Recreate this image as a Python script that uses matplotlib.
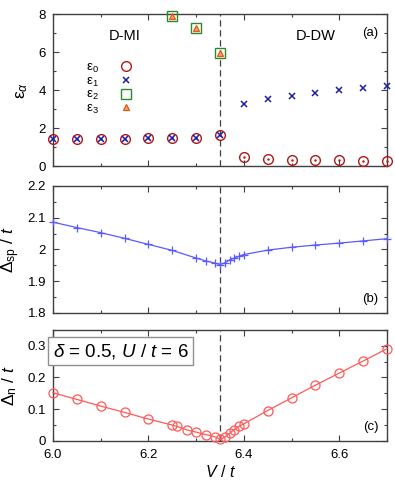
import matplotlib
matplotlib.use("Agg")
import matplotlib.pyplot as plt
from matplotlib.ticker import MultipleLocator, FixedLocator, FixedFormatter

plt.rcParams['font.family'] = ['Liberation Sans', 'DejaVu Sans']
plt.rcParams['mathtext.fontset'] = 'custom'
plt.rcParams['mathtext.rm'] = 'Liberation Sans'
plt.rcParams['mathtext.it'] = 'Liberation Sans:italic'
plt.rcParams['mathtext.sf'] = 'Liberation Sans'

# panel (a): lowest eigenvalues
V_a = [6.0, 6.05, 6.1, 6.15, 6.2, 6.25, 6.3, 6.35, 6.4, 6.45, 6.5, 6.55, 6.6, 6.65, 6.7]
eps0 = [1.45, 1.45, 1.45, 1.45, 1.46, 1.47, 1.50, 1.63, 0.47, 0.40, 0.34, 0.32, 0.30, 0.28, 0.26]
eps1 = [1.45, 1.45, 1.45, 1.45, 1.46, 1.47, 1.50, 1.63, 3.26, 3.53, 3.70, 3.84, 3.98, 4.09, 4.19]
V_hi = [6.25, 6.3, 6.35]
eps2 = [7.88, 7.28, 5.93]
eps3 = [7.88, 7.28, 5.93]

# panel (b): single particle gap
V_b = [6.0, 6.05, 6.1, 6.15, 6.2, 6.25, 6.3, 6.32, 6.34, 6.35, 6.36, 6.37, 6.38, 6.39, 6.4,
       6.45, 6.5, 6.55, 6.6, 6.65, 6.7]
gap_sp = [2.086, 2.069, 2.053, 2.035, 2.016, 1.997, 1.973, 1.964, 1.957, 1.952, 1.958, 1.967,
          1.973, 1.979, 1.984, 1.998, 2.007, 2.014, 2.020, 2.027, 2.034]

# panel (c): neutral gap
V_c = [6.0, 6.05, 6.1, 6.15, 6.2, 6.25, 6.26, 6.28, 6.3, 6.32, 6.34, 6.35, 6.36, 6.37, 6.38,
       6.39, 6.4, 6.45, 6.5, 6.55, 6.6, 6.65, 6.7]
gap_n = [0.152, 0.131, 0.110, 0.090, 0.069, 0.050, 0.046, 0.035, 0.028, 0.020, 0.013, 0.005,
         0.012, 0.024, 0.036, 0.046, 0.054, 0.096, 0.136, 0.176, 0.214, 0.252, 0.291]

V_c_trans = 6.35
x_ticks = [6.0, 6.2, 6.4, 6.6]
x_ticklabels = ["6.0", "6.2", "6.4", "6.6"]
a_yticks = [0, 2, 4, 6, 8]
b_yticks = [1.8, 1.9, 2.0, 2.1, 2.2]
b_yticklabels = ["1.8", "1.9", "2", "2.1", "2.2"]
c_yticks = [0, 0.1, 0.2, 0.3]
c_yticklabels = ["0", "0.1", "0.2", "0.3"]

FS = 9.5
SPINE = "#404040"


def styleAxis(ax, ymin, ymax, yticks, yminor, ylabels=None, show_x=False):
    """common gnuplot-like frame"""
    ax.set_xlim(6.0, 6.7)
    ax.set_ylim(ymin, ymax)
    ax.xaxis.set_major_locator(FixedLocator(x_ticks))
    ax.xaxis.set_minor_locator(MultipleLocator(0.1))
    ax.yaxis.set_major_locator(FixedLocator(yticks))
    ax.yaxis.set_minor_locator(MultipleLocator(yminor))
    if ylabels is not None:
        ax.yaxis.set_major_formatter(FixedFormatter(ylabels))
    if show_x:
        ax.set_xticklabels(x_ticklabels)
    else:
        ax.set_xticklabels([])
    ax.tick_params(which="both", direction="in", top=True, right=True,
                   labelsize=FS, color=SPINE, width=0.8)
    ax.tick_params(which="major", length=4.5)
    ax.tick_params(which="minor", length=2.5)
    ax.tick_params(axis="x", pad=6)
    ax.tick_params(axis="y", pad=5)
    for sp in ax.spines.values():
        sp.set_color(SPINE)
        sp.set_linewidth(1.0)
    ax.axvline(V_c_trans, color="#404040", lw=0.9, ls=(0, (5, 3)), zorder=1)


fig = plt.figure(figsize=(3.95, 4.83), dpi=100)
ax_a = fig.add_axes([0.134, 0.656, 0.846, 0.315])
ax_b = fig.add_axes([0.134, 0.352, 0.846, 0.263])
ax_c = fig.add_axes([0.134, 0.087, 0.846, 0.230])

# ---- (a)
styleAxis(ax_a, 0, 8, a_yticks, 1)
h0, = ax_a.plot(V_a, eps0, ls="none", marker="o", ms=7, mfc="none", mec="#b01818", mew=1.0,
                clip_on=False, label="ε$_0$", zorder=3)
ax_a.plot(V_a, eps0, ls="none", marker=".", ms=1.5, color="#b01818", clip_on=False, zorder=3)
h1, = ax_a.plot(V_a, eps1, ls="none", marker="x", ms=5, mec="#1c1ca8", mew=1.1,
                clip_on=False, label="ε$_1$", zorder=4)
h2, = ax_a.plot(V_hi, eps2, ls="none", marker="s", ms=7.5, mfc="none", mec="#2a8a2a", mew=1.0,
                clip_on=False, label="ε$_2$", zorder=3)
h3, = ax_a.plot(V_hi, eps3, ls="none", marker="^", ms=4.5, mfc="#f4a070", mec="#e05a10", mew=0.9,
                clip_on=False, label="ε$_3$", zorder=4)
ax_a.legend(handles=[h0, h1, h2, h3], loc="upper left", bbox_to_anchor=(0.08, 0.73),
            frameon=False, markerfirst=False, fontsize=FS, handlelength=1.0,
            handletextpad=1.5, labelspacing=0.02, borderpad=0)
ax_a.text(6.15, 6.85, "D-MI", fontsize=FS + 1, ha="center", va="center")
ax_a.text(6.55, 6.85, "D-DW", fontsize=FS + 1, ha="center", va="center")
ax_a.text(6.665, 7.0, "(a)", fontsize=FS, ha="center", va="center")
ax_a.set_ylabel("ε$_α$", fontsize=FS + 3, labelpad=6)

# ---- (b)
styleAxis(ax_b, 1.8, 2.2, b_yticks, 0.05, b_yticklabels)
ax_b.plot(V_b, gap_sp, color="#5a5aff", lw=0.9, marker="+", ms=6, mew=0.9, clip_on=False, zorder=3)
ax_b.text(6.665, 1.845, "(b)", fontsize=FS, ha="center", va="center")
ax_b.set_ylabel(r"$\Delta_{\rm sp}$ / $t$", fontsize=FS + 3, labelpad=4)

# ---- (c)
styleAxis(ax_c, 0, 0.35, c_yticks, 0.05, c_yticklabels, show_x=True)
ax_c.plot(V_c, gap_n, color="#ff5a5a", lw=0.9, marker="o", ms=6.5, mfc="none", mew=0.9,
          clip_on=False, zorder=3)
ax_c.text(6.665, 0.045, "(c)", fontsize=FS, ha="center", va="center")
ax_c.text(6.142, 0.283, r"$\delta$ = 0.5, $U$ / $t$ = 6", fontsize=FS + 4, ha="center", va="center",
          bbox=dict(boxstyle="square,pad=0.25", fc="white", ec="#909090", lw=1.0))
ax_c.set_ylabel(r"$\Delta_{\rm n}$ / $t$", fontsize=FS + 3, labelpad=6)
ax_c.set_xlabel(r"$V$ / $t$", fontsize=FS + 2, labelpad=2)

# align the three y labels
fig.align_ylabels([ax_a, ax_b, ax_c])

fig.savefig("out.png", dpi=100)
plt.close(fig)
